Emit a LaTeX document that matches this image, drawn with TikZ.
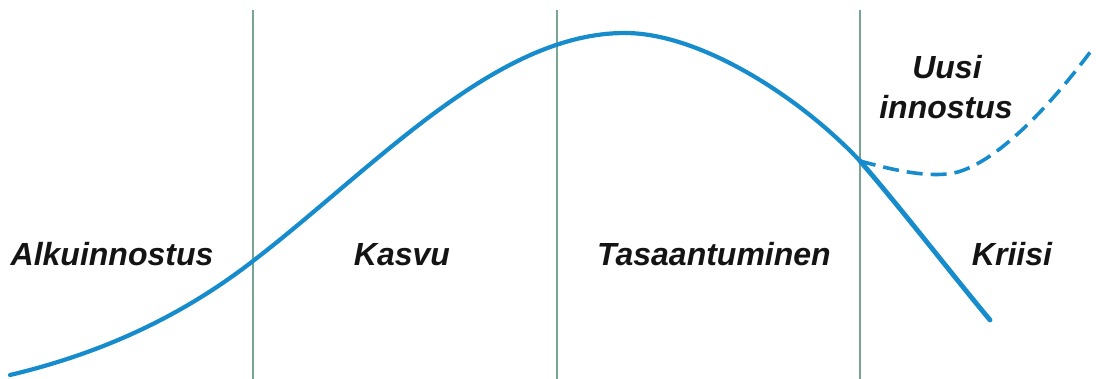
\documentclass[tikz,border=0pt]{standalone}
\usepackage{fontspec}
\setmainfont{Liberation Sans}
\definecolor{curveblue}{RGB}{22,140,204}
\definecolor{divider}{RGB}{120,165,145}
\tikzset{
  phase/.style={font=\fontsize{32}{40}\selectfont\bfseries\itshape, text=black!92, anchor=base, inner sep=0pt},
  divline/.style={draw=divider, line width=1.3pt},
  maincurve/.style={draw=curveblue, line width=4.2pt, line cap=round},
  newcurve/.style={draw=curveblue, line width=3.6pt, dash pattern=on 16pt off 8pt}
}
\begin{document}
\begin{tikzpicture}[x=1pt,y=-1pt]
\useasboundingbox (0,0) rectangle (1096,379);
% dividers
\draw[divline] (253,10) -- (253,379);
\draw[divline] (557,10) -- (557,379);
\draw[divline] (860,10) -- (860,379);
% main curve
\coordinate (start) at (10,375);
\coordinate (c1) at (253,261);
\coordinate (peak) at (625,33);
\coordinate (branch) at (860,161);
\coordinate (endc) at (990,320);
\coordinate (dmin) at (947,174);
\coordinate (dend) at (1094,47);
\draw[maincurve] (start) .. controls (90,356) and (173,323) .. (c1)
  .. controls (373,169) and (495,33) .. (peak)
  .. controls (700,33) and (800,97) .. (branch);
\draw[maincurve, line width=4.8pt] (branch) .. controls (900,207) and (950,272) .. (endc);
% dashed renewal
\draw[newcurve] (branch) .. controls (900,172) and (925,176) .. (dmin)
  .. controls (985,171) and (1040,120) .. (dend);
% labels
\node[phase] (alku) at (112,266) {Alkuinnostus};
\node[phase] (kasvu) at (402,266) {Kasvu};
\node[phase] (tasa) at (714,266) {Tasaantuminen};
\node[phase] (kriisi) at (1012,266) {Kriisi};
\node[phase] (uusi) at (947,79) {Uusi};
\node[phase] (innostus) at (946,119) {innostus};
\end{tikzpicture}
\end{document}
